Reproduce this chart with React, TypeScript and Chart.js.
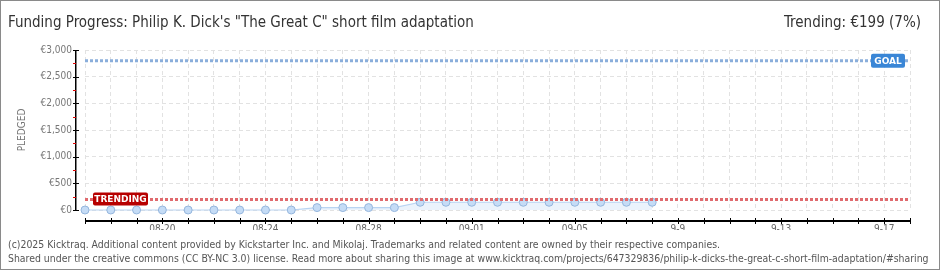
import React, { useEffect, useRef } from 'react';
import { Chart, registerables } from 'chart.js';

Chart.register(...registerables);

const days = [
  '08-17', '08-18', '08-19', '08-20', '08-21', '08-22', '08-23', '08-24', '08-25',
  '08-26', '08-27', '08-28', '08-29', '08-30', '08-31', '09-01', '09-02', '09-03',
  '09-04', '09-05', '09-06', '09-07', '09-08', '09-09', '09-10', '09-11', '09-12',
  '09-13', '09-14', '09-15', '09-16', '09-17', '09-18',
];
const pledged = [
  0, 0, 0, 0, 0, 0, 0, 0, 0,
  45, 45, 45, 45,
  145, 145, 145, 145, 145, 145, 145, 145, 145, 145,
];
const goal = 2800;
const trending = 199;
const xTickDays = ['08-20', '08-24', '08-28', '09-01', '09-05', '09-09', '09-13', '09-17'];
const xTickLabels = ['08-20', '08-24', '08-28', '09-01', '09-05', '9-9', '9-13', '9-17'];
const yMajorTicks = [0, 500, 1000, 1500, 2000, 2500, 3000];
const yMinorTicks = [250, 750, 1250, 1750, 2250, 2750];

const FONT = "'Liberation Sans Narrow', 'DejaVu Sans Condensed', 'Roboto', sans-serif";

const decorPlugin = {
  id: 'decor',
  afterDraw(chart: any) {
    const { ctx, chartArea } = chart;
    const xs = chart.scales.x;
    const ys = chart.scales.y;
    ctx.save();
    // y axis line (offset left of plot)
    const ax = Math.round(chartArea.left - 10);
    const yTop = Math.round(ys.getPixelForValue(3000));
    const yBot = Math.round(ys.getPixelForValue(0));
    ctx.fillStyle = '#000';
    ctx.fillRect(ax, yTop, 1.5, yBot - yTop + 1);
    yMajorTicks.forEach((v) => {
      const y = Math.round(ys.getPixelForValue(v));
      ctx.fillRect(ax - 2, y, 6, 1);
    });
    ctx.fillStyle = '#e00000';
    yMinorTicks.forEach((v) => {
      const y = Math.round(ys.getPixelForValue(v));
      ctx.fillRect(ax - 2, y, 3, 1);
    });
    // x axis line (offset below plot)
    const ay = Math.round(chartArea.bottom + 10);
    ctx.fillStyle = '#000';
    ctx.fillRect(chartArea.left, ay, chartArea.right - chartArea.left + 1, 2);
    days.forEach((d, i) => {
      const x = Math.round(xs.getPixelForValue(i));
      ctx.fillRect(x, ay - 2, 1, 6);
    });
    ctx.restore();
  },
  afterDatasetsDraw(chart: any) {
    const { ctx, chartArea } = chart;
    const ys = chart.scales.y;
    ctx.save();
    ctx.font = `bold 9px 'DejaVu Sans', sans-serif`;
    ctx.textBaseline = 'middle';
    // GOAL tag
    const gy = ys.getPixelForValue(goal);
    const gw = 34;
    const gx = chartArea.right - 5 - gw;
    ctx.fillStyle = '#3a86d6';
    ctx.beginPath();
    (ctx as any).roundRect(gx, gy - 7, gw, 14, 2);
    ctx.fill();
    ctx.fillStyle = '#fff';
    ctx.textAlign = 'center';
    ctx.fillText('GOAL', gx + gw / 2, gy + 0.5);
    // TRENDING tag
    const ty = ys.getPixelForValue(trending);
    const tw = 55;
    const tx = chartArea.left + 8;
    ctx.fillStyle = '#b70000';
    ctx.beginPath();
    (ctx as any).roundRect(tx, ty - 7, tw, 13, 2);
    ctx.fill();
    ctx.fillStyle = '#fff';
    ctx.fillText('TRENDING', tx + tw / 2, ty);
    ctx.restore();
  },
};

export default function App() {
  const canvasRef = useRef<HTMLCanvasElement | null>(null);

  useEffect(() => {
    document.body.style.margin = '0';
    const canvas = canvasRef.current;
    if (!canvas) return;
    const last = days[days.length - 1];
    const first = days[0];
    const chart = new Chart(canvas, {
      type: 'line',
      data: {
        labels: days,
        datasets: [
          {
            label: 'Goal',
            data: [{ x: first, y: goal }, { x: last, y: goal }] as any,
            borderColor: '#8aaedb',
            borderWidth: 3,
            borderDash: [3, 2],
            pointRadius: 0,
            fill: false,
          },
          {
            label: 'Trending',
            data: [{ x: first, y: trending }, { x: last, y: trending }] as any,
            borderColor: '#e06a6e',
            borderWidth: 3,
            borderDash: [3, 2],
            pointRadius: 0,
            fill: false,
          },
          {
            label: 'Pledged',
            data: pledged,
            borderColor: '#b9d4f2',
            borderWidth: 1.2,
            backgroundColor: '#ebf3fc',
            fill: 'origin',
            pointRadius: 4,
            pointBackgroundColor: '#c5dcf6',
            pointBorderColor: '#95b6dd',
            pointBorderWidth: 1,
            tension: 0,
            clip: false as any,
          },
        ],
      },
      options: {
        animation: false,
        responsive: false,
        maintainAspectRatio: false,
        layout: { padding: { left: 8, right: 30, top: 50, bottom: 40 } },
        plugins: {
          legend: { display: false },
          tooltip: { enabled: false },
        },
        scales: {
          x: {
            type: 'category',
            offset: false,
            grid: {
              display: true,
              drawTicks: false,
              color: '#e2e2e2',
              lineWidth: 1,
            },
            border: { display: false, dash: [4, 3] },
            ticks: {
              autoSkip: false,
              maxRotation: 0,
              padding: 13,
              color: '#666',
              font: { family: FONT, size: 10 },
              callback: (_v: any, i: number) => {
                const k = xTickDays.indexOf(days[i]);
                return k >= 0 ? xTickLabels[k] : '';
              },
            },
            afterFit: (s: any) => { s.height = 20; },
          },
          y: {
            min: 0,
            max: 3000,
            grid: {
              display: true,
              drawTicks: false,
              color: '#e2e2e2',
              lineWidth: 1,
            },
            border: { display: false, dash: [4, 3] },
            ticks: {
              stepSize: 500,
              padding: 13,
              color: '#777',
              font: { family: FONT, size: 10 },
              callback: (v: any) => '€' + Number(v).toLocaleString('en-US'),
            },
            title: {
              display: true,
              text: 'PLEDGED',
              color: '#777',
              font: { family: FONT, size: 10 },
              padding: { top: 8, bottom: 0 },
            },
            afterFit: (s: any) => { s.width = 77; },
          },
        },
      },
      plugins: [decorPlugin],
    });
    return () => chart.destroy();
  }, []);

  return (
    <div
      style={{
        position: 'relative',
        width: 940,
        height: 270,
        boxSizing: 'border-box',
        border: '1px solid #8a8a8a',
        background: '#fff',
        overflow: 'hidden',
        fontFamily: FONT,
      }}
    >
      <canvas
        ref={canvasRef}
        width={940}
        height={270}
        style={{ position: 'absolute', left: -1, top: -1, width: 940, height: 270 }}
      />
      <div style={{ position: 'absolute', left: 7, top: 12, fontSize: 15, color: '#333', whiteSpace: 'nowrap' }}>
        Funding Progress: Philip K. Dick's "The Great C" short film adaptation
      </div>
      <div style={{ position: 'absolute', right: 18, top: 12, fontSize: 15, color: '#333', whiteSpace: 'nowrap' }}>
        Trending: €199 (7%)
      </div>
      <div style={{ position: 'absolute', left: 7, top: 236, fontSize: 10.4, color: '#555', whiteSpace: 'nowrap', lineHeight: '14px' }}>
        (c)2025 Kicktraq. Additional content provided by Kickstarter Inc. and Mikolaj. Trademarks and related content are owned by their respective companies.
        <br />
        Shared under the creative commons (CC BY-NC 3.0) license. Read more about sharing this image at www.kicktraq.com/projects/647329836/philip-k-dicks-the-great-c-short-film-adaptation/#sharing
      </div>
    </div>
  );
}
